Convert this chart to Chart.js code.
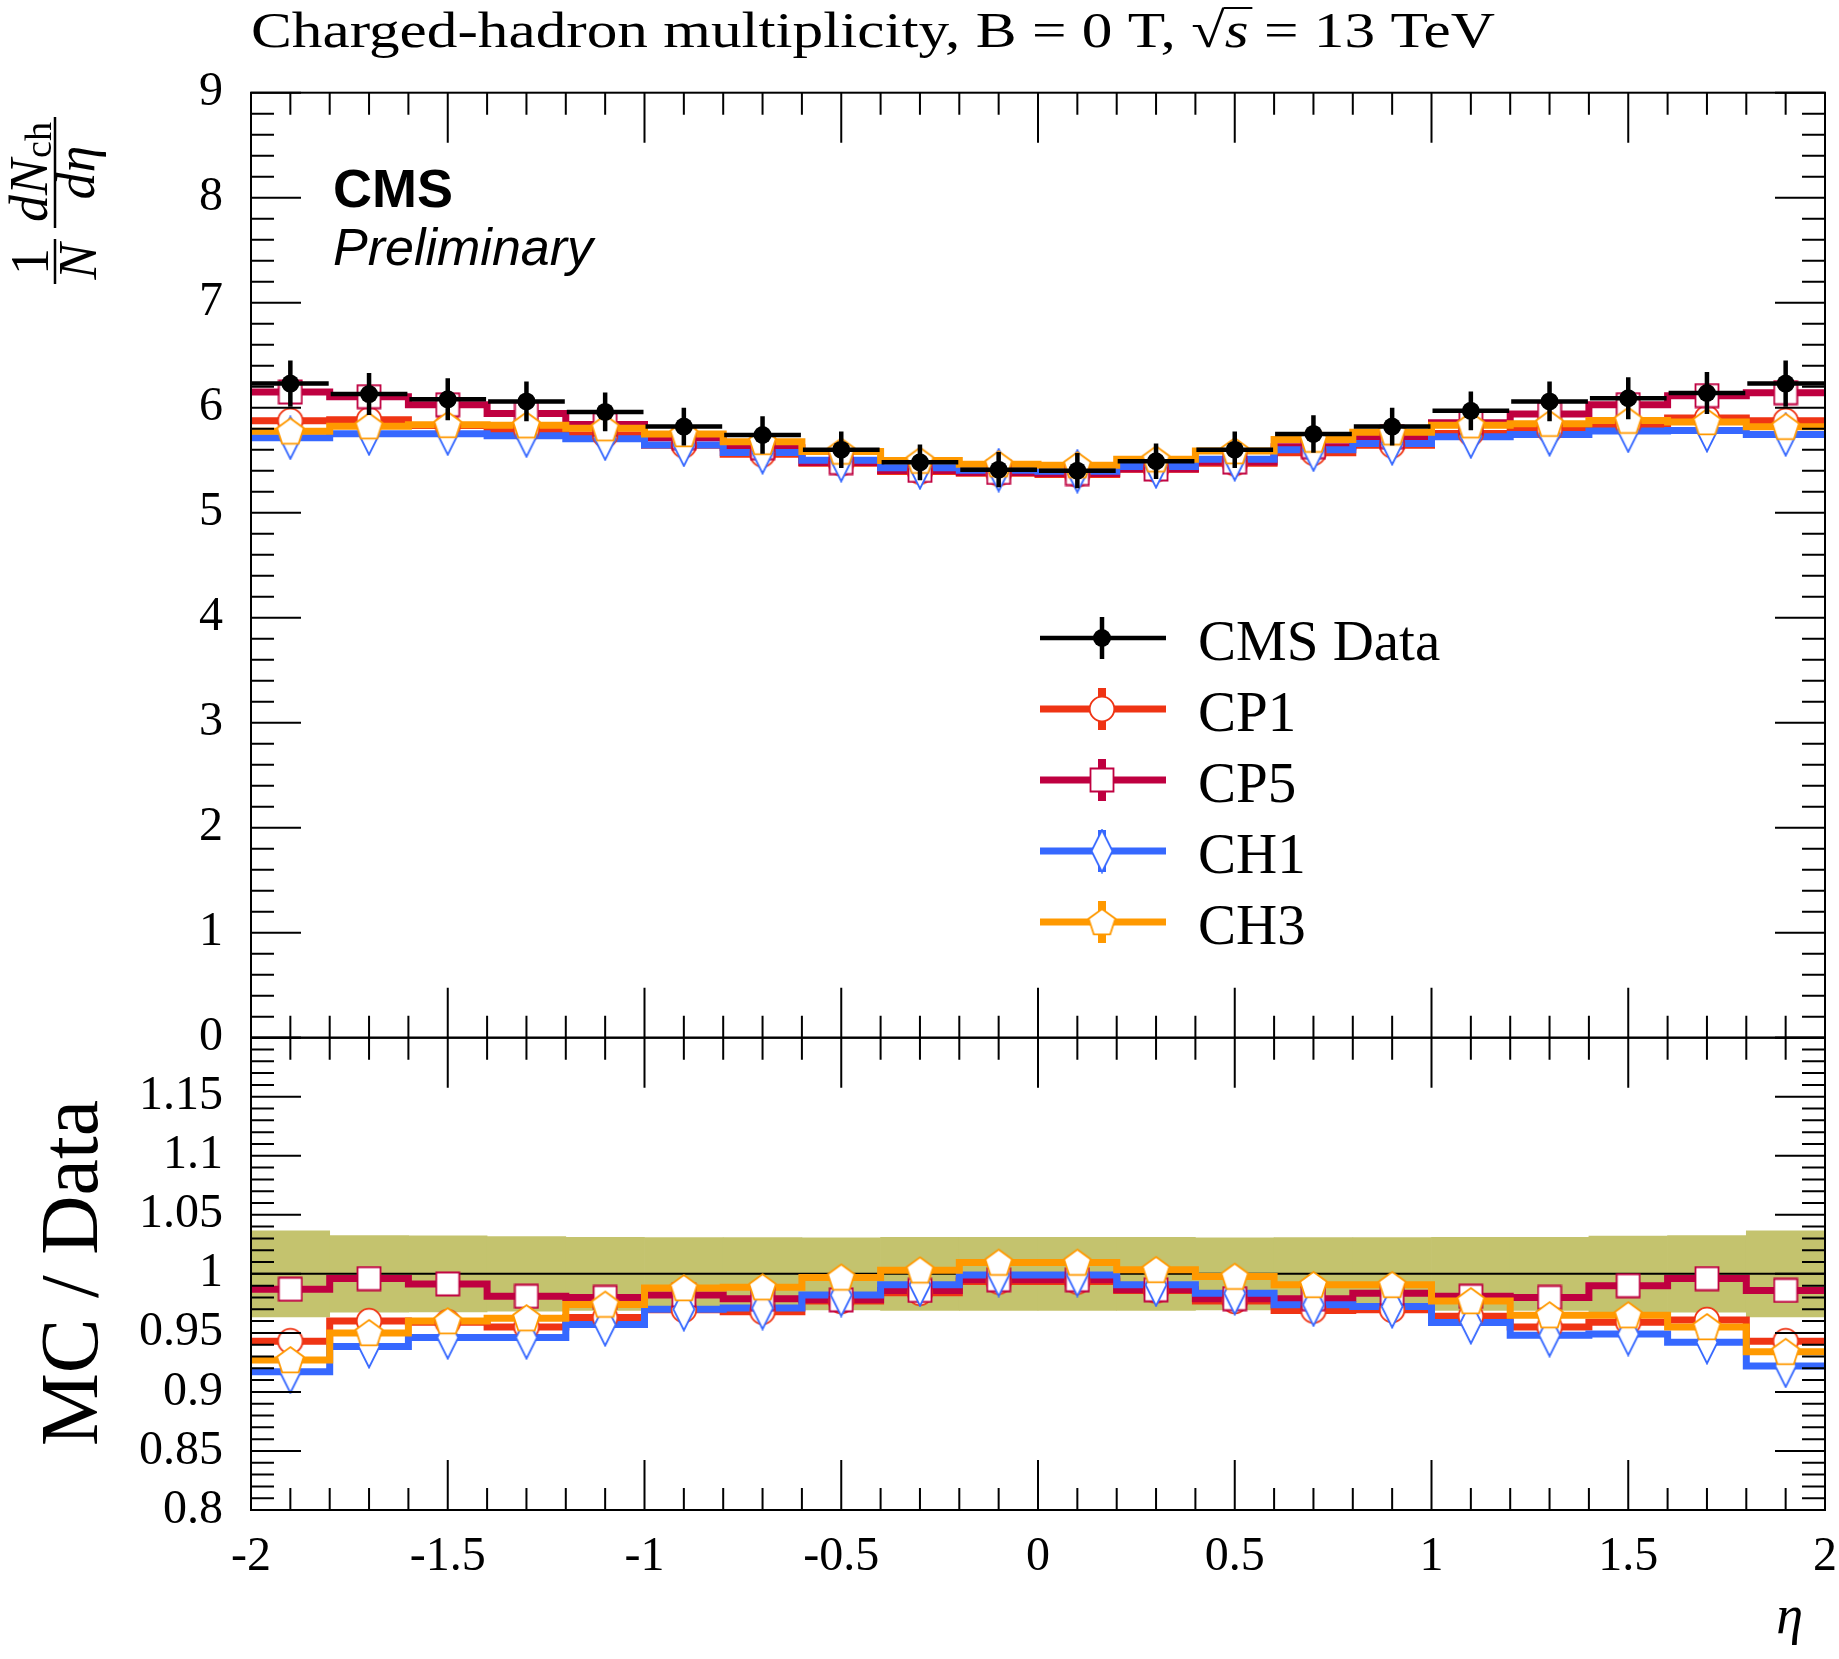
<!DOCTYPE html>
<html>
<head>
<meta charset="utf-8">
<script src="https://cdn.jsdelivr.net/npm/chart.js@4.4.0/dist/chart.umd.min.js"></script>
<style>
  body { margin: 0; background: #fff; }
  #wrap { position: relative; width: 1839px; height: 1659px; }
  #wrap canvas { position: absolute; left: 0; top: 0; }
</style>
</head>
<body>
<div id="wrap">
  <canvas id="ratioChart" width="1839" height="1659"></canvas>
  <canvas id="mainChart" width="1839" height="1659"></canvas>
</div>
<script>
// ---- data ----
const binEdges = [-2, -1.8, -1.6, -1.4, -1.2, -1, -0.8, -0.6, -0.4, -0.2, 0, 0.2, 0.4, 0.6, 0.8, 1, 1.2, 1.4, 1.6, 1.8, 2];
const etaCentres = [-1.9, -1.7, -1.5, -1.3, -1.1, -0.9, -0.7, -0.5, -0.3, -0.1, 0.1, 0.3, 0.5, 0.7, 0.9, 1.1, 1.3, 1.5, 1.7, 1.9];

const dataValues = [6.23, 6.13, 6.08, 6.06, 5.96, 5.82, 5.74, 5.60, 5.48, 5.41, 5.40, 5.49, 5.60, 5.75, 5.82, 5.97, 6.06, 6.09, 6.14, 6.23];
const dataErrors = [0.22, 0.20, 0.20, 0.19, 0.185, 0.18, 0.178, 0.174, 0.17, 0.168, 0.168, 0.17, 0.174, 0.178, 0.18, 0.185, 0.19, 0.20, 0.20, 0.22];

const cp1Values = [5.875, 5.885, 5.831, 5.787, 5.739, 5.642, 5.556, 5.471, 5.392, 5.375, 5.365, 5.413, 5.471, 5.572, 5.642, 5.755, 5.787, 5.840, 5.901, 5.875];
const cp5Values = [6.149, 6.105, 6.028, 5.945, 5.841, 5.715, 5.619, 5.477, 5.403, 5.383, 5.373, 5.416, 5.482, 5.629, 5.725, 5.857, 5.939, 6.029, 6.115, 6.143];
const ch1Values = [5.713, 5.753, 5.752, 5.733, 5.704, 5.645, 5.574, 5.499, 5.429, 5.405, 5.395, 5.439, 5.508, 5.599, 5.659, 5.724, 5.745, 5.779, 5.784, 5.744];
const ch3Values = [5.775, 5.824, 5.837, 5.833, 5.805, 5.750, 5.675, 5.583, 5.496, 5.462, 5.452, 5.509, 5.587, 5.697, 5.766, 5.833, 5.848, 5.877, 5.864, 5.819];

// MC / Data
const cp1Ratio = [0.943, 0.960, 0.959, 0.955, 0.963, 0.9695, 0.968, 0.977, 0.984, 0.9935, 0.9935, 0.986, 0.977, 0.969, 0.9695, 0.964, 0.955, 0.959, 0.961, 0.943];
const cp5Ratio = [0.987, 0.996, 0.9915, 0.981, 0.980, 0.982, 0.979, 0.978, 0.986, 0.995, 0.995, 0.9865, 0.979, 0.979, 0.9836, 0.981, 0.980, 0.990, 0.996, 0.986];
const ch1Ratio = [0.917, 0.9385, 0.946, 0.946, 0.957, 0.970, 0.971, 0.982, 0.9907, 0.999, 0.999, 0.9907, 0.9836, 0.9738, 0.9724, 0.9588, 0.948, 0.949, 0.942, 0.922];
const ch3Ratio = [0.927, 0.950, 0.960, 0.9625, 0.974, 0.988, 0.9887, 0.997, 1.003, 1.0096, 1.0096, 1.0034, 0.9977, 0.9907, 0.9907, 0.977, 0.965, 0.965, 0.955, 0.934];
// relative data uncertainty (green band)
const bandHalf = [0.0364, 0.0325, 0.0322, 0.0316, 0.031, 0.0307, 0.0307, 0.0305, 0.031, 0.031, 0.031, 0.031, 0.0305, 0.0307, 0.0307, 0.031, 0.031, 0.032, 0.0324, 0.0364];

const xTickLabels = ['-2', '-1.5', '-1', '-0.5', '0', '0.5', '1', '1.5', '2'];
const yTickLabels = ['0', '1', '2', '3', '4', '5', '6', '7', '8', '9'];
const ratioTickLabels = ['0.8', '0.85', '0.9', '0.95', '1', '1.05', '1.1', '1.15', ''];

// ---- styles ----
const SERIF = '"Liberation Serif", "DejaVu Serif", serif';
const SANS = '"Liberation Sans", Arial, sans-serif';
const bandColor = '#c4c36e';

function makeMarker(shape, color) {
  const sizes = { circle: [28, 28], square: [26, 26], diamond: [24, 45], pentagon: [31, 30] };
  const [w, h] = sizes[shape];
  const c = document.createElement('canvas');
  c.width = w; c.height = h;
  const g = c.getContext('2d');
  g.fillStyle = '#fff';
  g.strokeStyle = color;
  g.lineWidth = 1.8;
  g.beginPath();
  if (shape === 'circle') g.arc(w / 2, h / 2, 12.3, 0, Math.PI * 2);
  if (shape === 'square') g.rect(1.5, 1.5, w - 3, h - 3);
  if (shape === 'diamond') {
    g.moveTo(w / 2, 1.5); g.lineTo(w - 1.5, h / 2); g.lineTo(w / 2, h - 1.5); g.lineTo(1.5, h / 2); g.closePath();
  }
  if (shape === 'pentagon') {
    for (let k = 0; k < 5; k++) {
      const a = -Math.PI / 2 + k * 2 * Math.PI / 5;
      const px = w / 2 + 14 * Math.cos(a), py = 16 + 14 * Math.sin(a);
      if (k) g.lineTo(px, py); else g.moveTo(px, py);
    }
    g.closePath();
  }
  g.fill();
  g.stroke();
  return c;
}

const mcSeries = [
  { label: 'CP1', color: '#ef3414', values: cp1Values, ratio: cp1Ratio, shape: 'circle' },
  { label: 'CP5', color: '#bf0040', values: cp5Values, ratio: cp5Ratio, shape: 'square' },
  { label: 'CH1', color: '#3668ff', values: ch1Values, ratio: ch1Ratio, shape: 'diamond' },
  { label: 'CH3', color: '#ff9900', values: ch3Values, ratio: ch3Ratio, shape: 'pentagon' }
];
mcSeries.forEach(s => { s.marker = makeMarker(s.shape, s.color); });

// histogram: one point per bin edge, left value carried to the right
const histPoints = vals => binEdges.map((x, i) => ({ x, y: vals[Math.min(i, vals.length - 1)] }));
const centrePoints = vals => etaCentres.map((x, i) => ({ x, y: vals[i] }));

function mcDatasets(key) {
  const out = [];
  mcSeries.forEach((s, i) => {
    out.push({
      label: s.label + ' line', data: histPoints(s[key]), borderColor: s.color, borderWidth: 7,
      stepped: 'before', pointRadius: 0, fill: false, borderJoinStyle: 'miter', order: 8 - i
    });
    out.push({
      label: s.label, data: centrePoints(s[key]), showLine: false, pointStyle: s.marker,
      pointRadius: 12, order: 4 - i
    });
  });
  return out;
}

// ---- plugins ----
const isMultiple = (v, m) => Math.abs(v / m - Math.round(v / m)) < 1e-6;

const framePlugin = {
  id: 'rootFrame',
  afterDraw(chart, args, opts) {
    const { ctx, chartArea: a, scales: { x, y } } = chart;
    ctx.save();
    ctx.strokeStyle = '#000';
    ctx.lineWidth = 2;
    ctx.beginPath();
    const nx = Math.round((x.max - x.min) / opts.xStep);
    for (let k = 0; k <= nx; k++) {
      const v = x.min + k * opts.xStep;
      const len = isMultiple(v, opts.xMajor) ? 50 : 22;
      const px = x.getPixelForValue(v);
      ctx.moveTo(px, a.top); ctx.lineTo(px, a.top + len);
      ctx.moveTo(px, a.bottom); ctx.lineTo(px, a.bottom - len);
    }
    const ny = Math.round((y.max - y.min) / opts.yStep);
    for (let k = 0; k <= ny; k++) {
      const v = y.min + k * opts.yStep;
      const len = isMultiple(v, opts.yMajor) ? 50 : 23;
      const py = y.getPixelForValue(v);
      ctx.moveTo(a.left, py); ctx.lineTo(a.left + len, py);
      ctx.moveTo(a.right, py); ctx.lineTo(a.right - len, py);
    }
    ctx.stroke();
    ctx.strokeRect(a.left, a.top, a.right - a.left, a.bottom - a.top);
    ctx.restore();
  }
};

const errorBarPlugin = {
  id: 'errorBars',
  beforeDatasetDraw(chart, args) {
    if (chart.data.datasets[args.index].label !== 'CMS Data') return;
    const { ctx, scales: { x, y } } = chart;
    ctx.save();
    ctx.strokeStyle = '#000';
    ctx.lineWidth = 4.5;
    ctx.beginPath();
    dataValues.forEach((v, i) => {
      const px = x.getPixelForValue(etaCentres[i]);
      const py = y.getPixelForValue(v);
      ctx.moveTo(x.getPixelForValue(binEdges[i]) + 1, py);
      ctx.lineTo(x.getPixelForValue(binEdges[i + 1]) - 1, py);
      ctx.moveTo(px, y.getPixelForValue(v - dataErrors[i]));
      ctx.lineTo(px, y.getPixelForValue(v + dataErrors[i]));
    });
    ctx.stroke();
    ctx.restore();
  }
};

const textPlugin = {
  id: 'mainText',
  afterDraw(chart) {
    const ctx = chart.ctx;
    ctx.save();
    ctx.fillStyle = '#000';
    ctx.strokeStyle = '#000';
    ctx.textBaseline = 'alphabetic';

    // title, stretched a little to the reference width
    const p1 = 'Charged-hadron multiplicity, B = 0 T, ';
    const p3 = ' = 13 TeV';
    const fs = 50;
    ctx.font = fs + 'px ' + SERIF;
    let wTot = ctx.measureText(p1 + '\u221A' + p3).width;
    ctx.font = 'italic ' + fs + 'px ' + SERIF;
    wTot += ctx.measureText('s').width;
    ctx.save();
    ctx.translate(251, 47);
    ctx.scale(1244 / wTot, 1);
    let tx = 0;
    ctx.font = fs + 'px ' + SERIF;
    ctx.fillText(p1, tx, 0); tx += ctx.measureText(p1).width;
    ctx.fillText('\u221A', tx, 0); tx += ctx.measureText('\u221A').width;
    ctx.font = 'italic ' + fs + 'px ' + SERIF;
    const sw = ctx.measureText('s').width;
    ctx.fillText('s', tx, 0);
    ctx.fillRect(tx - 1, -fs * 0.80, sw + 4, 2);
    tx += sw;
    ctx.font = fs + 'px ' + SERIF;
    ctx.fillText(p3, tx, 0);
    ctx.restore();

    // CMS Preliminary
    ctx.font = 'bold 54px ' + SANS;
    ctx.fillText('CMS', 333, 207);
    ctx.font = 'italic 52px ' + SANS;
    ctx.fillText('Preliminary', 333, 265);

    // y title: 1/N dNch/deta (rotated)
    ctx.save();
    ctx.translate(55, 0);
    ctx.rotate(-Math.PI / 2);
    ctx.lineWidth = 2.5;
    ctx.beginPath();
    ctx.moveTo(-284, 0); ctx.lineTo(-239, 0);
    ctx.moveTo(-228, 0); ctx.lineTo(-117, 0);
    ctx.stroke();
    ctx.textAlign = 'center';
    ctx.font = '54px ' + SERIF;
    ctx.fillText('1', -261.5, -7);
    ctx.font = 'italic 54px ' + SERIF;
    ctx.fillText('N', -261.5, 41);
    ctx.fillText('d\u03B7', -172.5, 39);
    ctx.textAlign = 'left';
    const w1 = ctx.measureText('dN').width;
    ctx.font = '38px ' + SERIF;
    const w2 = ctx.measureText('ch').width;
    const start = -172.5 - (w1 + w2) / 2;
    ctx.font = 'italic 54px ' + SERIF;
    ctx.fillText('dN', start, -8);
    ctx.font = '38px ' + SERIF;
    ctx.fillText('ch', start + w1 + 1, -4);
    ctx.restore();

    // legend
    const rows = [638, 709, 780, 851, 922];
    const entries = [{ label: 'CMS Data', color: '#000', marker: null }].concat(mcSeries);
    entries.forEach((e, i) => {
      const ry = rows[i];
      ctx.strokeStyle = e.color;
      ctx.lineWidth = e.marker ? 7 : 4.5;
      ctx.beginPath();
      ctx.moveTo(1040, ry); ctx.lineTo(1166, ry);
      ctx.stroke();
      ctx.lineWidth = e.marker ? 8 : 4.5;
      ctx.beginPath();
      ctx.moveTo(1102, ry - 21); ctx.lineTo(1102, ry + 21);
      ctx.stroke();
      if (e.marker) {
        ctx.drawImage(e.marker, 1102 - e.marker.width / 2, ry - e.marker.height / 2);
      } else {
        ctx.fillStyle = '#000';
        ctx.beginPath(); ctx.arc(1102, ry, 9, 0, Math.PI * 2); ctx.fill();
      }
      ctx.fillStyle = '#000';
      ctx.font = '57px ' + SERIF;
      ctx.fillText(e.label, 1198, ry + 22);
    });
    ctx.restore();
  }
};

const ratioTextPlugin = {
  id: 'ratioText',
  afterDraw(chart) {
    const ctx = chart.ctx;
    ctx.save();
    ctx.fillStyle = '#000';
    ctx.textBaseline = 'alphabetic';
    ctx.save();
    ctx.translate(97, 1273);
    ctx.rotate(-Math.PI / 2);
    ctx.textAlign = 'center';
    ctx.font = '82px ' + SERIF;
    ctx.fillText('MC / Data', 0, 0);
    ctx.restore();
    ctx.textAlign = 'right';
    ctx.font = 'italic 54px ' + SERIF;
    ctx.fillText('\u03B7', 1803, 1633);
    ctx.restore();
  }
};

Chart.defaults.font.family = SERIF;
Chart.defaults.color = '#000';

const tickFont = { family: SERIF, size: 48 };

// ---- main panel ----
new Chart(document.getElementById('mainChart'), {
  type: 'line',
  data: {
    datasets: [{
      label: 'CMS Data', data: centrePoints(dataValues), showLine: false, pointStyle: 'circle',
      pointRadius: 9, pointBackgroundColor: '#000', pointBorderWidth: 0, order: 0
    }].concat(mcDatasets('values'))
  },
  options: {
    responsive: false,
    animation: false,
    events: [],
    layout: { padding: { left: 0, right: 14, top: 92.7, bottom: 621.3 } },
    scales: {
      x: { type: 'linear', min: -2, max: 2, display: false },
      y: {
        type: 'linear', min: 0, max: 9,
        grid: { display: false, drawTicks: false },
        border: { display: false },
        ticks: { stepSize: 1, padding: 28, font: tickFont, callback: (v, i) => yTickLabels[i] },
        afterFit: s => { s.width = 251; }
      }
    },
    plugins: {
      legend: { display: false },
      tooltip: { enabled: false },
      rootFrame: { xStep: 0.1, xMajor: 0.5, yStep: 0.2, yMajor: 1 }
    }
  },
  plugins: [errorBarPlugin, framePlugin, textPlugin]
});

// ---- ratio panel ----
new Chart(document.getElementById('ratioChart'), {
  type: 'line',
  data: {
    datasets: [
      {
        type: 'bar', label: 'uncertainty',
        data: etaCentres.map((x, i) => ({ x, y: [1 - bandHalf[i], 1 + bandHalf[i]] })),
        backgroundColor: bandColor, borderWidth: 0, barPercentage: 1, categoryPercentage: 1, order: 20
      },
      {
        label: 'unity', data: [{ x: -2, y: 1 }, { x: 2, y: 1 }], borderColor: '#000', borderWidth: 2,
        pointRadius: 0, fill: false, order: 19
      }
    ].concat(mcDatasets('ratio'))
  },
  options: {
    responsive: false,
    animation: false,
    events: [],
    layout: { padding: { left: 0, right: 14, top: 1037.7, bottom: 0 } },
    scales: {
      x: {
        type: 'linear', min: -2, max: 2, offset: false,
        grid: { display: false, drawTicks: false },
        border: { display: false },
        ticks: { stepSize: 0.5, padding: 19, font: tickFont, maxRotation: 0, autoSkip: false, callback: (v, i) => xTickLabels[i] },
        afterFit: s => { s.height = 149; s.paddingLeft = 0; s.paddingRight = 0; }
      },
      y: {
        type: 'linear', min: 0.8, max: 1.2,
        grid: { display: false, drawTicks: false },
        border: { display: false },
        ticks: { stepSize: 0.05, padding: 28, font: tickFont, autoSkip: false, callback: (v, i) => ratioTickLabels[i] },
        afterFit: s => { s.width = 251; }
      }
    },
    plugins: {
      legend: { display: false },
      tooltip: { enabled: false },
      rootFrame: { xStep: 0.1, xMajor: 0.5, yStep: 0.01, yMajor: 0.05 }
    }
  },
  plugins: [framePlugin, ratioTextPlugin]
});
</script>
</body>
</html>
